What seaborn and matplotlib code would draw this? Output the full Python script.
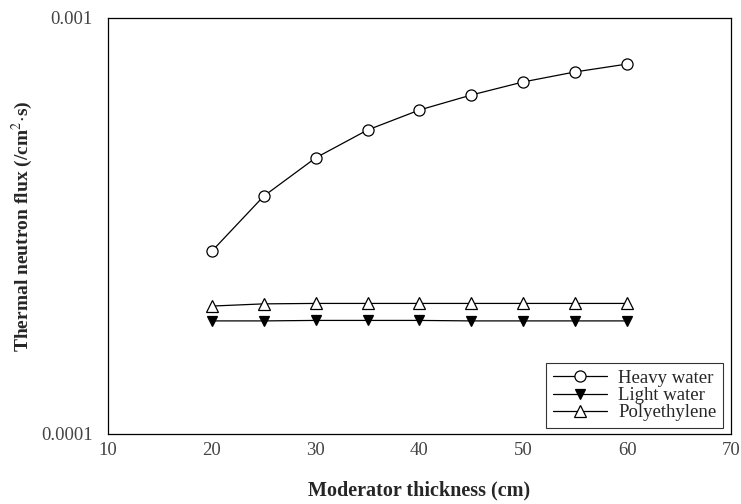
import matplotlib
matplotlib.use("Agg")
import matplotlib.pyplot as plt
import matplotlib.ticker as mticker
import seaborn as sns
import pandas as pd

thickness = [20, 25, 30, 35, 40, 45, 50, 55, 60]
heavy_water = [2.75e-4, 3.73e-4, 4.61e-4, 5.38e-4, 6.01e-4, 6.53e-4, 7.02e-4, 7.42e-4, 7.75e-4]
light_water = [1.87e-4, 1.87e-4, 1.875e-4, 1.875e-4, 1.875e-4, 1.87e-4, 1.87e-4, 1.87e-4, 1.87e-4]
polyethylene = [2.03e-4, 2.055e-4, 2.06e-4, 2.06e-4, 2.06e-4, 2.06e-4, 2.06e-4, 2.06e-4, 2.06e-4]

x_ticks = [10, 20, 30, 40, 50, 60, 70]
y_ticks = [0.0001, 0.001]
y_tick_labels = ["0.0001", "0.001"]

sns.set_theme(style="white")
plt.rcParams["font.family"] = ["Liberation Serif", "DejaVu Serif"]
plt.rcParams["mathtext.fontset"] = "stix"

fig = plt.figure(figsize=(7.41, 5.04), dpi=100)
ax = fig.add_axes([0.1457, 0.1389, 0.8408, 0.8254])

series = [
    ("Heavy water", heavy_water, dict(marker="o", markerfacecolor="white", markersize=8)),
    ("Light water", light_water, dict(marker="v", markerfacecolor="black", markersize=7)),
    ("Polyethylene", polyethylene, dict(marker="^", markerfacecolor="white", markersize=8)),
]
for name, vals, mk in series:
    df = pd.DataFrame({"x": thickness, "y": vals})
    sns.lineplot(data=df, x="x", y="y", ax=ax, color="black", linewidth=0.9,
                 markeredgecolor="black", markeredgewidth=0.9, label=name, **mk)

ax.set_yscale("log")
ax.set_xlim(10, 70)
ax.set_ylim(0.0001, 0.001)
ax.set_xticks(x_ticks)
ax.set_yticks(y_ticks)
ax.set_yticklabels(y_tick_labels)
ax.yaxis.set_minor_locator(mticker.NullLocator())
ax.tick_params(axis="x", direction="in", length=4, width=0.8, labelsize=13.5, pad=6, colors="black")
ax.tick_params(axis="y", direction="out", length=3, width=0.8, labelsize=13.5, pad=8, colors="black")
for lab in ax.get_xticklabels() + ax.get_yticklabels():
    lab.set_color("#444444")

for s in ax.spines.values():
    s.set_visible(True)
    s.set_color("black")
    s.set_linewidth(0.9)

ax.set_xlabel("Moderator thickness (cm)", fontsize=14.5, fontweight="bold")
ax.xaxis.set_label_coords(0.5, -0.112)
ax.set_ylabel(r"Thermal neutron flux (/cm$^{2}$$\cdot$s)", fontsize=14, fontweight="bold")
ax.yaxis.set_label_coords(-0.117, 0.5)

leg = ax.legend(loc="lower right", bbox_to_anchor=(0.9875, 0.015), fontsize=13.5, frameon=True,
                fancybox=False, edgecolor="black", handlelength=2.9, borderpad=0.35,
                labelspacing=0.0, handletextpad=0.6, borderaxespad=0.0)
leg.get_frame().set_linewidth(0.8)

fig.savefig("out.png", dpi=100, facecolor="white")
